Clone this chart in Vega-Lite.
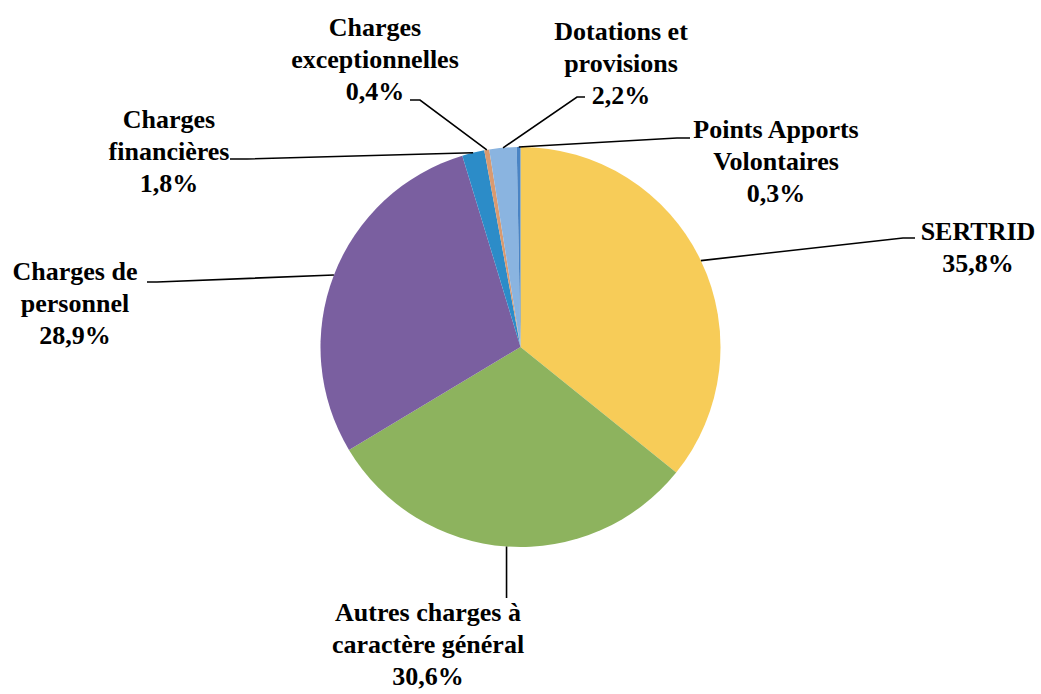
{
  "$schema": "https://vega.github.io/schema/vega-lite/v6.json",
  "width": 1041,
  "height": 694,
  "autosize": {"type": "fit", "contains": "padding"},
  "padding": 0,
  "background": "white",
  "config": {"view": {"stroke": null}},
  "datasets": {
    "slices": [
      {"label": "SERTRID", "pct": 35.8, "o": 1},
      {"label": "Autres charges à caractère général", "pct": 30.6, "o": 2},
      {"label": "Charges de personnel", "pct": 28.9, "o": 3},
      {"label": "Charges financières", "pct": 1.8, "o": 4},
      {"label": "Charges exceptionnelles", "pct": 0.4, "o": 5},
      {"label": "Dotations et provisions", "pct": 2.2, "o": 6},
      {"label": "Points Apports Volontaires", "pct": 0.3, "o": 7}
    ],
    "leaders": [
      {"id": "exc", "seq": 1, "x": -0.5525, "y": 1.235},
      {"id": "exc", "seq": 2, "x": -0.5025, "y": 1.235},
      {"id": "exc", "seq": 3, "x": -0.1685, "y": 0.9855},
      {"id": "dot", "seq": 1, "x": 0.3225, "y": 1.25},
      {"id": "dot", "seq": 2, "x": 0.2825, "y": 1.25},
      {"id": "dot", "seq": 3, "x": -0.0872, "y": 0.996},
      {"id": "pav", "seq": 1, "x": 0.8475, "y": 1.045},
      {"id": "pav", "seq": 2, "x": 0.7825, "y": 1.045},
      {"id": "pav", "seq": 3, "x": -0.0087, "y": 1.0},
      {"id": "fin", "seq": 1, "x": -1.4525, "y": 0.94},
      {"id": "fin", "seq": 2, "x": -1.3675, "y": 0.94},
      {"id": "fin", "seq": 3, "x": -0.2368, "y": 0.9715},
      {"id": "pers", "seq": 1, "x": -1.8675, "y": 0.325},
      {"id": "pers", "seq": 2, "x": -1.8175, "y": 0.325},
      {"id": "pers", "seq": 3, "x": -0.933, "y": 0.36},
      {"id": "sert", "seq": 1, "x": 1.9725, "y": 0.545},
      {"id": "sert", "seq": 2, "x": 1.9125, "y": 0.545},
      {"id": "sert", "seq": 3, "x": 0.902, "y": 0.432},
      {"id": "aut", "seq": 1, "x": -0.0698, "y": -0.9976},
      {"id": "aut", "seq": 2, "x": -0.0698, "y": -1.255}
    ],
    "labels": [
      {"text": "Charges\nexceptionnelles\n0,4%", "x": -0.7275, "y": 1.595},
      {"text": "Dotations et\nprovisions\n2,2%", "x": 0.5025, "y": 1.575},
      {"text": "Points Apports\nVolontaires\n0,3%", "x": 1.2775, "y": 1.085},
      {"text": "Charges\nfinancières\n1,8%", "x": -1.7575, "y": 1.135},
      {"text": "Charges de\npersonnel\n28,9%", "x": -2.2275, "y": 0.375},
      {"text": "SERTRID\n35,8%", "x": 2.2875, "y": 0.575},
      {"text": "Autres charges à\ncaractère général\n30,6%", "x": -0.4625, "y": -1.33}
    ]
  },
  "layer": [
    {
      "data": {"name": "slices"},
      "mark": {"type": "arc", "outerRadius": 200},
      "encoding": {
        "theta": {"field": "pct", "type": "quantitative", "stack": true},
        "order": {"field": "o", "type": "quantitative"},
        "color": {
          "field": "label",
          "type": "nominal",
          "legend": null,
          "scale": {
            "domain": ["SERTRID", "Autres charges à caractère général", "Charges de personnel", "Charges financières", "Charges exceptionnelles", "Dotations et provisions", "Points Apports Volontaires"],
            "range": ["#F7CC58", "#8DB35E", "#7A5FA0", "#2C8CC8", "#D99A70", "#8AB4E0", "#4A84C4"]
          }
        }
      }
    },
    {
      "data": {"name": "leaders"},
      "mark": {"type": "line", "color": "black", "strokeWidth": 1.6},
      "encoding": {
        "x": {"field": "x", "type": "quantitative", "axis": null, "scale": {"domain": [-2.6025, 2.6025], "nice": false, "zero": false}},
        "y": {"field": "y", "type": "quantitative", "axis": null, "scale": {"domain": [-1.735, 1.735], "nice": false, "zero": false}},
        "detail": {"field": "id", "type": "nominal"},
        "order": {"field": "seq", "type": "quantitative"}
      }
    },
    {
      "data": {"name": "labels"},
      "mark": {"type": "text", "font": "Liberation Serif", "fontWeight": "bold", "fontSize": 26, "lineHeight": 32, "lineBreak": "\n", "align": "center", "baseline": "middle", "color": "black"},
      "encoding": {
        "x": {"field": "x", "type": "quantitative"},
        "y": {"field": "y", "type": "quantitative"},
        "text": {"field": "text", "type": "nominal"}
      }
    }
  ]
}
